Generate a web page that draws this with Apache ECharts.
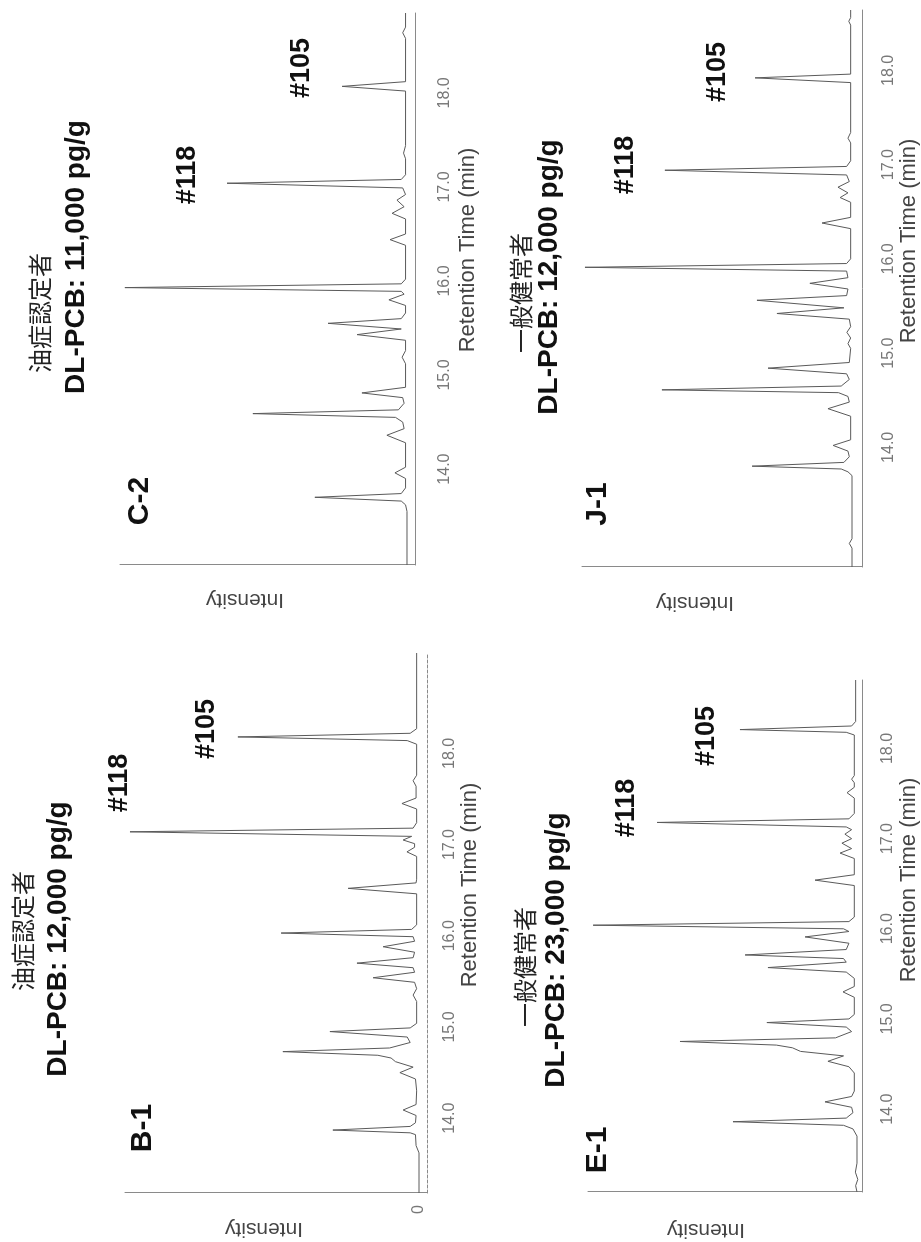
<!DOCTYPE html>
<html><head><meta charset="utf-8">
<script src="https://cdn.jsdelivr.net/npm/echarts/dist/echarts.min.js"></script>
<style>
html,body{margin:0;padding:0;background:#fff;overflow:hidden;width:921px;height:1242px;}
#chart{position:absolute;left:0;top:0;width:1242px;height:921px;transform-origin:0 0;transform:translate(0,1242px) rotate(-90deg);}
</style></head><body><div id="chart"></div>
<script>
// ---- data (retention time [min], relative intensity) ----
const panelNames = ['B-1', 'C-2', 'E-1', 'J-1'];
const groupTitles = ['油症認定者', '油症認定者', '一般健常者', '一般健常者'];
const dlpcbLabels = ['DL-PCB: 12,000 pg/g', 'DL-PCB: 11,000 pg/g', 'DL-PCB: 23,000 pg/g', 'DL-PCB: 12,000 pg/g'];
const peakLabels = ['#118', '#105'];
const timeTicks = [14, 15, 16, 17, 18];
const xAxisTitle = 'Retention Time (min)';
const yAxisTitle = 'Intensity';

const traceB1 = [[13.18,0],[13.62,0],[13.70,1.0],[13.82,1.2],[13.84,3],[13.87,29.3],[13.91,3],[13.95,1.2],[14.03,1.0],[14.09,5.4],[14.15,1.0],[14.30,0.8],[14.43,1.2],[14.50,6.5],[14.56,2.0],[14.62,8.0],[14.66,9.5],[14.69,14],[14.73,46.3],[14.77,10],[14.83,3],[14.89,4],[14.95,30.3],[14.99,3],[15.04,0.8],[15.28,0.8],[15.35,2.0],[15.42,0.8],[15.49,1.5],[15.54,15.6],[15.60,1.5],[15.65,2],[15.70,21.1],[15.76,2],[15.82,1.5],[15.88,12.2],[15.94,1.5],[15.99,2],[16.03,46.9],[16.07,2.5],[16.12,0.8],[16.46,0.8],[16.52,24.1],[16.58,1],[16.62,0.8],[16.87,0.8],[16.92,4.1],[16.97,1.5],[17.01,1.5],[17.05,5.4],[17.09,2.5],[17.14,98.3],[17.18,2],[17.24,0.8],[17.39,0.8],[17.45,5.8],[17.51,1],[17.64,1],[17.70,2],[17.76,0.8],[18.10,0.8],[18.14,4],[18.18,61.6],[18.22,3],[18.27,0.8],[19.10,0.8]];

const traceC2 = [[12.98,0],[13.55,0],[13.62,0.5],[13.66,2],[13.70,32.1],[13.74,2],[13.80,0.5],[13.90,0.5],[13.96,4.2],[14.02,0.5],[14.28,0.5],[14.36,7.0],[14.43,1.0],[14.50,1.5],[14.55,4],[14.59,53.7],[14.63,3],[14.70,1],[14.76,1.5],[14.81,15.7],[14.87,0.5],[15.12,0.5],[15.19,1.7],[15.26,0.5],[15.37,0.5],[15.43,17.4],[15.49,2],[15.55,27.5],[15.60,2],[15.66,0.5],[15.74,0.5],[15.80,6.3],[15.86,1],[15.89,2],[15.93,98.3],[15.97,2],[16.02,0.5],[16.38,0.5],[16.44,5.9],[16.50,0.5],[16.66,0.5],[16.72,5.2],[16.79,1],[16.86,3.5],[16.92,0.5],[16.99,1.5],[17.04,62.7],[17.08,2],[17.13,0.5],[17.30,0.5],[17.36,1.2],[17.44,0.5],[18.02,0.5],[18.07,22.6],[18.12,0.5],[18.58,0.5],[18.64,1.5],[18.70,0.5],[18.85,0.5]];

const traceE1 = [[13.08,0],[13.15,0.5],[13.22,-0.3],[13.30,0.6],[13.40,0],[13.70,0],[13.78,1.5],[13.82,5],[13.86,46.1],[13.90,4],[13.96,1.5],[14.02,2],[14.08,11.9],[14.14,2],[14.20,1],[14.40,1],[14.47,3],[14.53,10.8],[14.59,5],[14.64,21],[14.68,24],[14.71,30],[14.75,65.8],[14.79,8],[14.86,2],[14.91,4],[14.96,33.5],[15.00,3],[15.05,1],[15.24,1],[15.30,5.2],[15.36,1],[15.45,1],[15.52,4],[15.57,33.1],[15.63,4],[15.67,5],[15.71,41.6],[15.77,4],[15.84,3],[15.91,19.3],[15.97,3],[16.00,5],[16.04,98.1],[16.08,3],[16.13,1],[16.48,1],[16.54,15.6],[16.60,1],[16.78,1],[16.84,6.3],[16.89,2],[16.95,5.6],[17.00,2],[17.05,4.5],[17.10,2],[17.13,4],[17.18,74.3],[17.22,3],[17.28,1],[17.45,1],[17.51,3.7],[17.57,1],[17.62,1],[17.66,2],[17.70,1],[18.15,1],[18.18,4],[18.21,43.5],[18.25,2],[18.30,0.5],[18.76,0.5]];

const traceJ1 = [[12.73,0],[12.93,0],[12.98,1],[13.03,0],[13.70,0],[13.74,1.5],[13.77,4],[13.80,37.0],[13.84,3],[13.90,1],[13.96,1.5],[14.02,7.0],[14.08,0.5],[14.33,0.5],[14.41,8.9],[14.48,1],[14.54,1.5],[14.58,5],[14.61,70.4],[14.65,4],[14.72,1],[14.78,2],[14.84,31.1],[14.90,1],[15.05,0.5],[15.10,1.5],[15.16,0.5],[15.22,1.9],[15.28,0.5],[15.36,1],[15.42,27.8],[15.48,3],[15.56,35.2],[15.61,2],[15.68,1.5],[15.74,15.6],[15.80,1.5],[15.87,2],[15.91,98.9],[15.95,2],[16.00,0.5],[16.32,0.5],[16.38,11.1],[16.44,0.5],[16.60,0.5],[16.65,4.4],[16.70,1.5],[16.76,5.2],[16.82,1],[16.89,2],[16.94,69.3],[16.98,2],[17.04,0.5],[17.23,0.5],[17.28,1.5],[17.34,0.5],[17.87,0.5],[17.92,35.9],[17.96,0.5],[18.48,0.5],[18.52,1.2],[18.56,0.5],[18.64,0.5]];

const traces = [traceB1, traceC2, traceE1, traceJ1];

// ---- layout (upright frame 1242 x 921, page is rotated -90deg) ----
const layout = [
  {grid:{left:49,top:125,width:540,height:302}, tmin:13.18, tmax:19.10, imin:-2.72, dashed:true, lm:15, zero:true,
   t:{jp:[311,23], dl:[303,58], panel:[114,143], p118:[459,120], p105:[513,207], rt:[357,470], inten:[13,264]}},
  {grid:{left:677,top:120,width:552,height:295}, tmin:12.98, tmax:18.85, imin:-2.79, dashed:false, lm:22, zero:false,
   t:{jp:[929,40], dl:[985,76], panel:[741,140], p118:[1067,188], p105:[1174,302], rt:[992,468], inten:[642,245]}},
  {grid:{left:50,top:588,width:512,height:274}, tmin:13.08, tmax:18.76, imin:-1.86, dashed:false, lm:18, zero:false,
   t:{jp:[275,525], dl:[292,556], panel:[92,598], p118:[434,627], p105:[506,707], rt:[362,909], inten:[12,706]}},
  {grid:{left:675,top:582,width:557,height:280}, tmin:12.73, tmax:18.64, imin:-3.7, dashed:false, lm:19, zero:false,
   t:{jp:[949,521], dl:[965,549], panel:[738,598], p118:[1077,626], p105:[1170,718], rt:[1001,909], inten:[639,695]}}
];

const SANS = '"Liberation Sans", Arial, sans-serif';
const CJK = '"Noto Sans CJK JP", sans-serif';
function txt(text, pos, size, weight, family, color, rot) {
  return {type:'text', x:pos[0], y:pos[1], rotation: rot || 0, silent:true,
    style:{text:text, fontSize:size, fontWeight:weight, fontFamily:family, fill:color,
      align:'center', verticalAlign:'middle', textAlign:'center', textVerticalAlign:'middle'}};
}

const grids = [], xAxes = [], yAxes = [], series = [], graphics = [];
layout.forEach((L, i) => {
  grids.push(L.grid);
  xAxes.push({type:'value', gridIndex:i, min:L.tmin, max:L.tmax,
    axisLine:{show:true, onZero:false, lineStyle:{color:'#8a8a8a', width:1, type: L.dashed ? [3,2] : 'solid'}},
    axisTick:{show:false}, splitLine:{show:false},
    axisLabel:{margin:L.lm, fontSize:16, color:'#777', fontFamily:SANS,
      showMinLabel:false, showMaxLabel:false,
      formatter: v => timeTicks.some(t => Math.abs(t - v) < 1e-6) ? v.toFixed(1) : ''}});
  yAxes.push({type:'value', gridIndex:i, min:L.imin, max:100,
    axisLine:{show:true, onZero:false, lineStyle:{color:'#8a8a8a', width:1}},
    axisTick:{show:false}, splitLine:{show:false},
    axisLabel:{show:L.zero, margin:12, fontSize:16, color:'#777', fontFamily:SANS,
      formatter: v => (Math.abs(v) < 1e-9 ? '0' : '')}});
  series.push({type:'line', xAxisIndex:i, yAxisIndex:i, data:traces[i], showSymbol:false, symbol:'none',
    lineStyle:{color:'#5a5a5a', width:1}, animation:false, silent:true, z:3});
  const T = L.t;
  graphics.push(txt(groupTitles[i], T.jp, 24, 'normal', CJK, '#222'));
  graphics.push(txt(dlpcbLabels[i], T.dl, 28, 'bold', SANS, '#111'));
  graphics.push(txt(panelNames[i], T.panel, 30, 'bold', SANS, '#111'));
  graphics.push(txt(peakLabels[0], T.p118, 27, 'bold', SANS, '#111'));
  graphics.push(txt(peakLabels[1], T.p105, 27, 'bold', SANS, '#111'));
  graphics.push(txt(xAxisTitle, T.rt, 22, 'normal', SANS, '#444'));
  graphics.push(txt(yAxisTitle, T.inten, 21, 'normal', SANS, '#444', Math.PI / 2));
});

const chart = echarts.init(document.getElementById('chart'), null, {renderer:'canvas', width:1242, height:921});
chart.setOption({
  backgroundColor:'#fff',
  animation:false,
  grid:grids, xAxis:xAxes, yAxis:yAxes, series:series,
  graphic:{elements:graphics}
});
</script></body></html>
